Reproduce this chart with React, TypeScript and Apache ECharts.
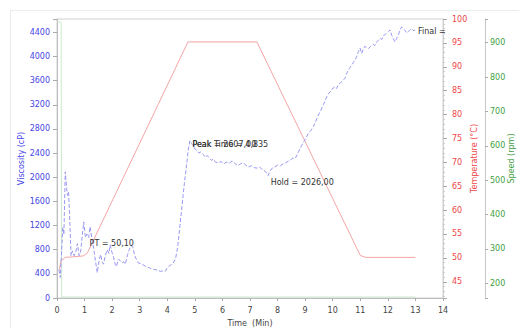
import React, { useEffect, useRef } from 'react';
import * as echarts from 'echarts';

// ---- data (time in minutes) ----
const viscosity: [number, number][] = [
  [0.07, 470], [0.12, 340], [0.17, 800], [0.21, 1170], [0.25, 1050], [0.3, 2090], [0.35, 1820],
  [0.38, 1700], [0.42, 1760], [0.47, 1200], [0.51, 700], [0.56, 780], [0.62, 700], [0.68, 760],
  [0.74, 900], [0.8, 700], [0.86, 780], [0.92, 1050], [0.97, 1260], [1.03, 1000], [1.09, 1060],
  [1.15, 1000], [1.2, 1180], [1.26, 1000], [1.33, 820], [1.4, 600], [1.46, 420], [1.52, 600],
  [1.58, 720], [1.64, 600], [1.69, 560], [1.75, 700], [1.82, 800], [1.88, 740], [1.93, 880],
  [1.99, 760], [2.05, 680], [2.11, 560], [2.16, 520], [2.22, 640], [2.29, 620], [2.36, 580],
  [2.42, 600], [2.48, 560], [2.55, 700], [2.62, 800], [2.69, 870], [2.75, 840], [2.82, 700],
  [2.88, 640], [2.95, 580], [3.05, 570], [3.15, 540], [3.25, 520], [3.35, 500], [3.45, 480],
  [3.55, 470], [3.65, 460], [3.75, 440], [3.85, 450], [3.93, 445], [4.0, 500], [4.1, 540],
  [4.2, 570], [4.3, 650], [4.38, 850], [4.46, 1200], [4.54, 1550], [4.62, 1900], [4.7, 2200],
  [4.76, 2450], [4.82, 2607], [4.88, 2560], [4.94, 2520], [5.0, 2470], [5.08, 2440], [5.15, 2400],
  [5.22, 2420], [5.3, 2380], [5.38, 2330], [5.45, 2360], [5.52, 2320], [5.6, 2280], [5.68, 2300],
  [5.75, 2250], [5.85, 2240], [5.95, 2260], [6.05, 2220], [6.15, 2250], [6.25, 2230], [6.35, 2270],
  [6.45, 2230], [6.55, 2190], [6.65, 2220], [6.75, 2240], [6.85, 2200], [6.95, 2170], [7.05, 2190],
  [7.15, 2160], [7.25, 2150], [7.35, 2170], [7.45, 2120], [7.55, 2100], [7.62, 2060], [7.66, 2026],
  [7.72, 2100], [7.8, 2150], [7.9, 2170], [8.0, 2200], [8.1, 2190], [8.2, 2220], [8.3, 2240],
  [8.4, 2270], [8.48, 2290], [8.56, 2320], [8.64, 2310], [8.72, 2380], [8.81, 2470], [8.88, 2530],
  [8.95, 2590], [9.03, 2650], [9.12, 2730], [9.2, 2770], [9.3, 2840], [9.38, 2920], [9.48, 3030],
  [9.56, 3100], [9.66, 3200], [9.72, 3260], [9.78, 3330], [9.86, 3390], [9.96, 3440], [10.02, 3480],
  [10.08, 3500], [10.14, 3470], [10.2, 3530], [10.27, 3560], [10.33, 3580], [10.4, 3620],
  [10.45, 3640], [10.51, 3720], [10.57, 3780], [10.63, 3820], [10.69, 3860], [10.75, 3900],
  [10.81, 3940], [10.87, 4000], [10.93, 4080], [10.99, 4140], [11.05, 4050], [11.11, 4120],
  [11.17, 4170], [11.23, 4140], [11.29, 4130], [11.38, 4170], [11.47, 4200], [11.53, 4180],
  [11.6, 4240], [11.66, 4270], [11.72, 4300], [11.78, 4280], [11.84, 4350], [11.9, 4360],
  [11.96, 4390], [12.02, 4410], [12.08, 4440], [12.14, 4350], [12.2, 4290], [12.26, 4240],
  [12.32, 4300], [12.38, 4350], [12.44, 4440], [12.5, 4490], [12.56, 4460], [12.62, 4430],
  [12.68, 4390], [12.74, 4410], [12.8, 4440], [12.86, 4460], [12.92, 4430], [12.99, 4435],
];

const temperature: [number, number][] = [
  [0.08, 47.5], [0.15, 49.4], [0.3, 50.1], [0.95, 50.4], [1.1, 51], [4.75, 95.2], [7.25, 95.2],
  [11.0, 50.5], [11.2, 50.1], [13.0, 50.1],
];

const speed: [number, number][] = [
  [0.0, 960], [0.15, 960], [0.17, 160], [13.0, 160],
];

// annotation labels: [time, viscosity, text, vertical offset]
const annotations: [number, number, string, number][] = [
  [4.82, 2607, 'Peak = 2607,00', 4],
  [4.82, 2607, 'Peak Time = 4,835', 4],
  [7.66, 2026, 'Hold = 2026,00', 7],
  [1.09, 910, 'PT = 50,10', 0],
  [13.0, 4435, 'Final =', 1],
];

const FONT = 'DejaVu Sans';
const BLUE = '#4646e6';
const RED = '#f04646';
const GREEN = '#3f9f3f';

export default function App() {
  const ref = useRef<HTMLDivElement>(null);
  useEffect(() => {
    if (!ref.current) return;
    const chart = echarts.init(ref.current, undefined, { renderer: 'svg' });
    const mult = (step: number) => (v: number) =>
      Math.abs(v / step - Math.round(v / step)) < 1e-6 ? String(Math.round(v)) : '';
    chart.setOption({
      animation: false,
      backgroundColor: '#ffffff',
      textStyle: { fontFamily: FONT },
      graphic: [
        {
          type: 'rect',
          silent: true,
          shape: { x: 10.5, y: 10.5, width: 520, height: 330 },
          style: { fill: 'none', stroke: '#ececec', lineWidth: 1 },
        },
      ],
      grid: {
        left: 57, right: 76, top: 19, bottom: 30,
        outerBoundsMode: 'none',
        containLabel: false,
        show: true, borderColor: '#d0d0d0', borderWidth: 1, backgroundColor: 'transparent',
      },
      xAxis: {
        type: 'value', min: 0, max: 14, interval: 1,
        name: 'Time  (Min)', nameLocation: 'middle', nameGap: 21, nameMoveOverlap: false,
        nameTextStyle: { color: '#444', fontSize: 8, fontFamily: FONT },
        axisLine: { show: true, lineStyle: { color: '#bdbdbd' } },
        axisTick: { show: true, length: 3, lineStyle: { color: '#aaa' } },
        axisLabel: { color: '#444', fontSize: 8, fontFamily: FONT, margin: 8 },
        splitLine: { show: false },
      },
      yAxis: [
        {
          type: 'value', position: 'left', min: 0, max: 4620, interval: 400,
          name: 'Viscosity (cP)', nameLocation: 'middle', nameGap: 32, nameRotate: 90,
          nameMoveOverlap: false,
          nameTextStyle: { color: BLUE, fontSize: 8, fontFamily: FONT },
          axisLine: { show: true, lineStyle: { color: '#bdbdbd' } },
          axisTick: { show: true, length: 4, lineStyle: { color: '#aaa' } },
          axisLabel: { color: BLUE, fontSize: 8, fontFamily: FONT, margin: 7, formatter: mult(400) },
          splitLine: { show: false },
        },
        {
          type: 'value', position: 'right', min: 41.6, max: 100,
          splitNumber: 12, minInterval: 5, maxInterval: 5,
          name: 'Temperature (°C)', nameLocation: 'middle', nameGap: 27, nameRotate: 90,
          nameMoveOverlap: false,
          nameTextStyle: { color: RED, fontSize: 8, fontFamily: FONT },
          axisLine: { show: true, lineStyle: { color: '#d0d0d0' } },
          axisTick: { show: true, length: 4, lineStyle: { color: '#aaa' } },
          minorTick: { show: true, splitNumber: 5, length: 2, lineStyle: { color: '#ccc' } },
          axisLabel: { color: RED, fontSize: 8, fontFamily: FONT, margin: 9, formatter: mult(5) },
          splitLine: { show: false },
        },
        {
          type: 'value', position: 'right', offset: 42, min: 157, max: 969,
          splitNumber: 8, minInterval: 100, maxInterval: 100,
          name: 'Speed (rpm)', nameLocation: 'middle', nameGap: 22, nameRotate: 90,
          nameMoveOverlap: false,
          nameTextStyle: { color: GREEN, fontSize: 8, fontFamily: FONT },
          axisLine: { show: true, lineStyle: { color: '#c8c8c8' } },
          axisTick: { show: true, length: 3, lineStyle: { color: '#aaa' } },
          axisLabel: { color: GREEN, fontSize: 8, fontFamily: FONT, margin: 5, formatter: mult(100) },
          splitLine: { show: false },
        },
      ],
      series: [
        {
          name: 'Speed', type: 'line', yAxisIndex: 2, data: speed,
          showSymbol: false, symbol: 'none',
          lineStyle: { color: '#cde8cd', width: 1 },
        },
        {
          name: 'Temperature', type: 'line', yAxisIndex: 1, data: temperature,
          showSymbol: false, symbol: 'none',
          lineStyle: { color: '#f4a4a4', width: 1 },
        },
        {
          name: 'Viscosity', type: 'line', yAxisIndex: 0, data: viscosity,
          showSymbol: false, symbol: 'none',
          lineStyle: { color: '#9898f2', width: 1, type: [4, 2] },
          markPoint: {
            silent: true,
            symbol: 'circle',
            symbolSize: 1,
            itemStyle: { color: 'rgba(0,0,0,0)' },
            label: {
              show: true, position: 'right', distance: 2,
              color: '#333', fontSize: 8, fontFamily: FONT,
            },
            data: annotations.map(([t, v, text, dy]) => ({
              coord: [t, v],
              label: { formatter: text, offset: [0, dy] },
            })),
          },
        },
      ],
    });
    return () => chart.dispose();
  }, []);
  return (
    <div
      ref={ref}
      style={{ position: 'absolute', left: 0, top: 0, width: 519, height: 328, background: '#fff' }}
    />
  );
}
